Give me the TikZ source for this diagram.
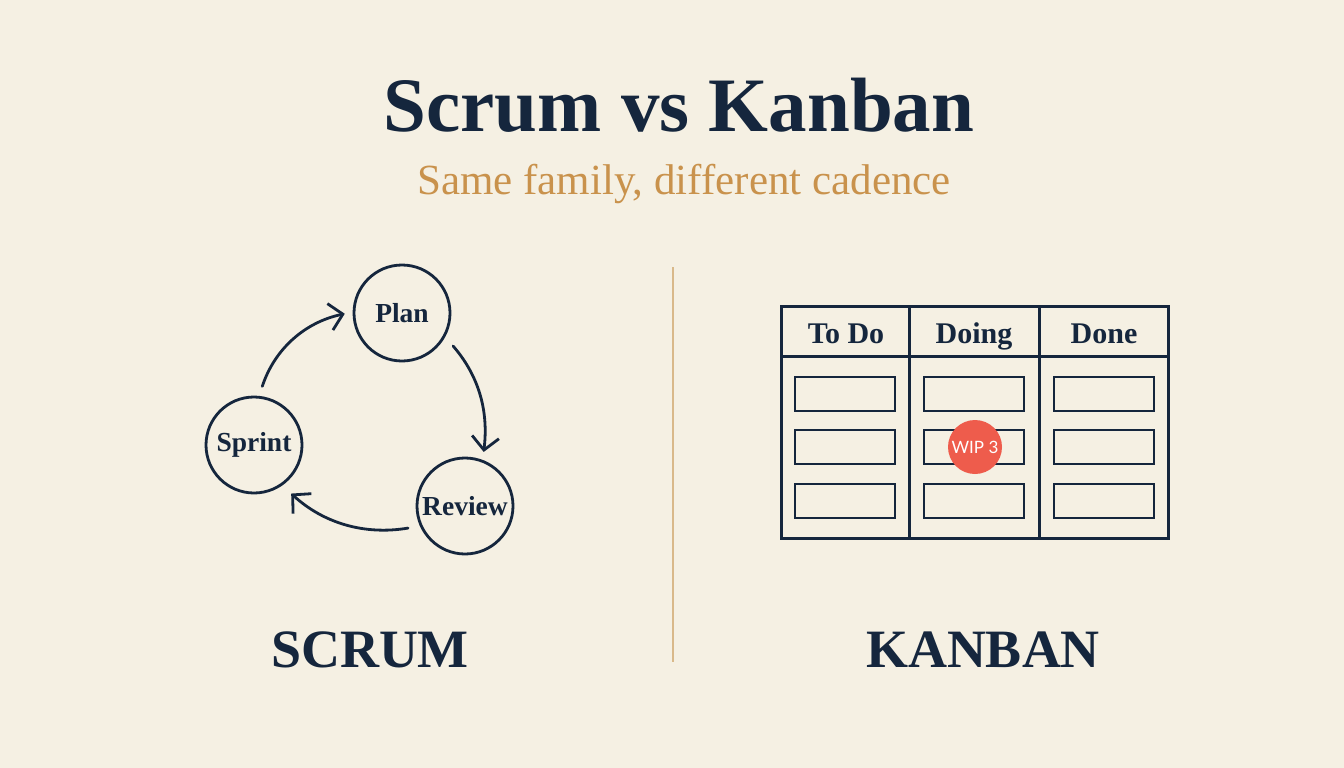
\documentclass[tikz,border=0pt]{standalone}
\usepackage{fontspec}
\setmainfont{Liberation Serif}
\newfontfamily\badgefont{Lato}
\usetikzlibrary{arrows.meta}
\definecolor{bg}{HTML}{F5F0E3}
\definecolor{ink}{HTML}{15263D}
\definecolor{tan}{HTML}{C9924C}
\definecolor{rule}{HTML}{D9B98A}
\definecolor{wip}{HTML}{EE5C4C}
\tikzset{
  phase/.style={circle, draw=ink, line width=2.8pt, minimum size=96pt, inner sep=0pt, text=ink, font=\bfseries\fontsize{27.5}{30}\selectfont},
  flow/.style={draw=ink, line width=2.8pt, line cap=round, -{Straight Barb[length=13pt,width=27pt,line width=2.8pt]}},
  board/.style={draw=ink, line width=3pt},
  card/.style={draw=ink, line width=2.8pt, minimum width=100pt, minimum height=34pt, inner sep=0pt},
  head/.style={text=ink, anchor=base, font=\bfseries\fontsize{30}{33}\selectfont},
  big/.style={text=ink, anchor=base, font=\bfseries\fontsize{54}{60}\selectfont}
}
\begin{document}
\begin{tikzpicture}[x=1pt,y=-1pt]
\fill[bg] (0,0) rectangle (1344,768);
\useasboundingbox (0,0) rectangle (1344,768);
% titles
\node[text=ink, anchor=base, font=\bfseries\fontsize{77}{88}\selectfont] (title) at (679,131) {Scrum vs Kanban};
\node[text=tan, anchor=base, font=\fontsize{43}{48}\selectfont] (sub) at (684,194) {Same family, different cadence};
% divider
\coordinate (d1) at (673,267);
\coordinate (d2) at (673,662);
\draw[rule, line width=2.2pt] (d1) -- (d2);
% scrum cycle
\node[phase] (plan) at (402,313) {Plan};
\node[phase] (sprint) at (254,445) {Sprint};
\node[phase] (review) at (465,506) {Review};
\draw[flow, shorten <=10pt, shorten >=8pt] (sprint.84) to[bend left=30] (plan.179);
\draw[flow, shorten <=12pt, shorten >=8pt] (plan.-29) to[bend left=24] (review.69);
\draw[flow, shorten <=12pt, shorten >=12pt] (review.204) to[bend left=26] (sprint.-55);
% kanban board
\coordinate (bTL) at (781,306);
\coordinate (bBR) at (1168,538);
\draw[board] (bTL) rectangle (bBR);
\coordinate (h1) at (781,356); \coordinate (h2) at (1168,356);
\draw[board] (h1) -- (h2);
\coordinate (c1t) at (909,306); \coordinate (c1b) at (909,538);
\coordinate (c2t) at (1039,306); \coordinate (c2b) at (1039,538);
\draw[board] (c1t) -- (c1b);
\draw[board] (c2t) -- (c2b);
\node[head] (todo) at (846,343) {To Do};
\node[head] (doing) at (974,343) {Doing};
\node[head] (done) at (1104,343) {Done};
\foreach \cx/\c in {845/a,974/b,1104/c}{
  \foreach \cy/\r in {394/1,447/2,501/3}{
    \node[card] (card\c\r) at (\cx,\cy) {};
  }
}
\node[circle, fill=wip, minimum size=54pt, inner sep=0pt, text=white, font=\badgefont\fontsize{17}{20}\selectfont] (wipbadge) at (975,447) {WIP 3};
% bottom labels
\node[big] (scrum) at (370,667) {SCRUM};
\node[big] (kanban) at (983,667) {KANBAN};
\end{tikzpicture}
\end{document}
